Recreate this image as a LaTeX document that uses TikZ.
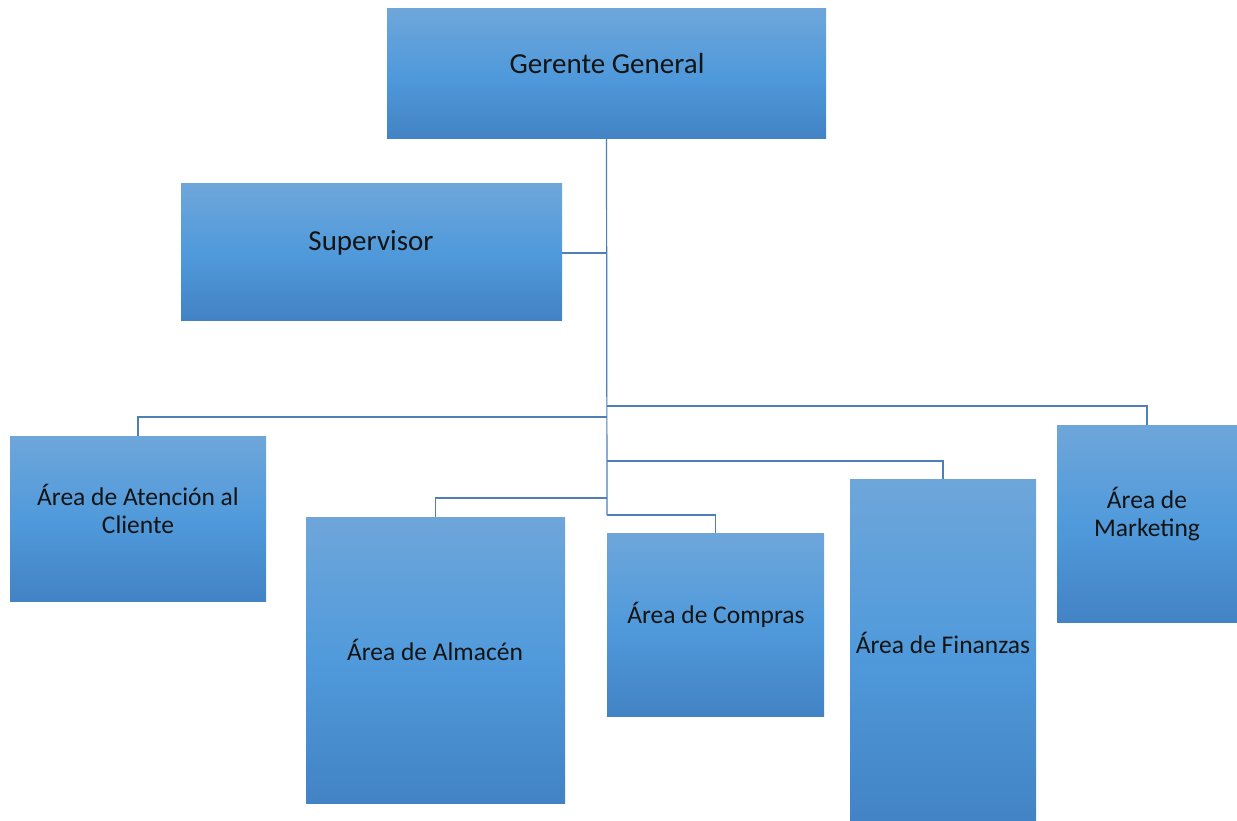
\documentclass[tikz,border=0pt]{standalone}
\usepackage{fontspec}
\setmainfont{Carlito}
\begin{document}
\begin{tikzpicture}[x=1pt,y=-1pt,
  box/.style={rectangle, inner sep=0pt, outer sep=0pt,
    top color=boxtop, bottom color=boxbot, middle color=boxmid},
  label/.style={align=center, text=black!92, font=\fontsize{25.5}{28}\selectfont},
  biglabel/.style={label, font=\fontsize{29}{32}\selectfont},
  link/.style={draw=linkblue, line width=1.2pt}]
\definecolor{boxtop}{HTML}{6EA6DA}
\definecolor{boxmid}{HTML}{509ADB}
\definecolor{boxbot}{HTML}{4283C5}
\definecolor{linkblue}{HTML}{4F7FB8}
\useasboundingbox (0,0) rectangle (1237,821);
\fill[white] (0,0) rectangle (1237,821);

% boxes placed by their top-left corner
\node[box, minimum width=439pt, minimum height=130pt, anchor=north west] (gg) at (387,9) {};
\node[biglabel] (ggt) at (607,64) {Gerente General};
\node[box, minimum width=381pt, minimum height=136pt, anchor=north west] (sup) at (181,184) {};
\node[biglabel] (supt) at (371,243) {Supervisor};
\node[box, minimum width=256pt, minimum height=165pt, anchor=north west] (aac) at (10,436) {};
\node[label] (aact) at (138,509) {Área de Atención al\\Cliente};
\node[box, minimum width=259pt, minimum height=286pt, anchor=north west] (alm) at (306,517) {};
\node[label] (almt) at (435,650) {Área de Almacén};
\node[box, minimum width=217pt, minimum height=183pt, anchor=north west] (com) at (607,533) {};
\node[label] (comt) at (716,615) {Área de Compras};
\node[box, minimum width=186pt, minimum height=345pt, anchor=north west] (fin) at (850,479) {};
\node[label] (fint) at (943,643) {Área de Finanzas};
\node[box, minimum width=180pt, minimum height=197pt, anchor=north west] (mkt) at (1057,425) {};
\node[label] (mktt) at (1147,514) {Área de\\Marketing};

% trunk and branches
\coordinate (trunkend) at (607,515);
\draw[link] (gg.south) -- (trunkend);
\draw[link] (sup.east |- 0,253) -- (607,253);
\draw[link] (607,417) -| (aac.north);
\draw[link] (607,406) -| (mkt.north);
\draw[link] (607,461) -| (fin.north);
\draw[link] (607,498) -| (alm.north);
\draw[link] (trunkend) -| (com.north);
\end{tikzpicture}
\end{document}
